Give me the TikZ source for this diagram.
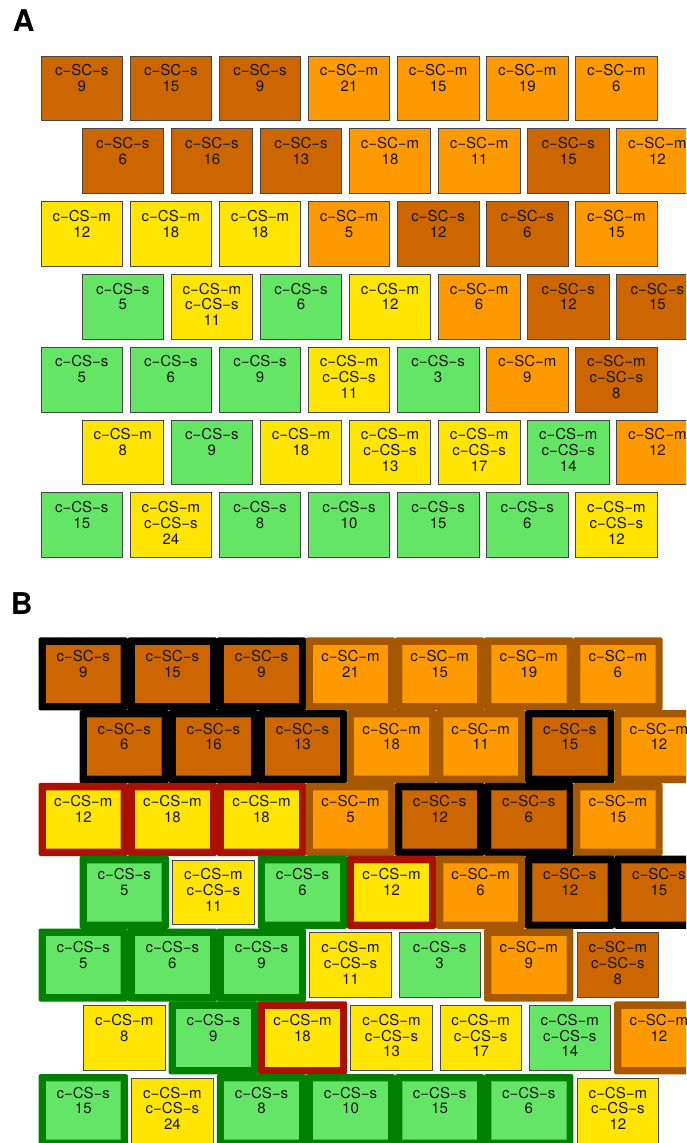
\documentclass[tikz,border=0pt]{standalone}
\usepackage{fontspec}
\setmainfont{TeX Gyre Heros}
\definecolor{scs}{RGB}{204,102,0}
\definecolor{scm}{RGB}{255,153,0}
\definecolor{csm}{RGB}{255,229,0}
\definecolor{css}{RGB}{101,229,101}
\definecolor{grpbrown}{RGB}{166,88,0}
\definecolor{grpred}{RGB}{170,17,0}
\definecolor{grpgreen}{RGB}{0,128,0}
\definecolor{cellline}{RGB}{70,70,70}
\tikzset{
  cellbox/.style={draw=cellline, line width=0.8pt, inner sep=0pt, outer sep=0pt,
    minimum width=81.5pt, minimum height=64.7pt},
  celltext/.style={font=\fontsize{15}{15.8}\selectfont, align=center, inner sep=0pt,
    anchor=north, text=black!92, execute at begin node={\rule{0pt}{11pt}}},
  panellabel/.style={font=\bfseries\fontsize{30}{30}\selectfont, inner sep=0pt},
  gblack/.code={\def\gcol{black}\def\gin{3}\tikzset{binner/.style={draw=black, draw opacity=0.3, line width=1.2pt}}},
  gbrown/.code={\def\gcol{grpbrown}\def\gin{3}\tikzset{binner/.style={draw=grpbrown, draw opacity=0.35, line width=1.2pt}}},
  gred/.code={\def\gcol{grpred}\def\gin{3}\tikzset{binner/.style={draw=grpred, draw opacity=0.35, line width=1.2pt}}},
  ggreen/.code={\def\gcol{grpgreen}\def\gin{3}\tikzset{binner/.style={draw=grpgreen, draw opacity=0.35, line width=1.2pt}}},
  gnone/.code={\def\gcol{none}\def\gin{0}\tikzset{binner/.style={draw=cellline, line width=0.8pt}}},
}
\def\cells{
1/1/scs/gblack/{c−SC−s\\9}, 1/2/scs/gblack/{c−SC−s\\15}, 1/3/scs/gblack/{c−SC−s\\9},
1/4/scm/gbrown/{c−SC−m\\21}, 1/5/scm/gbrown/{c−SC−m\\15}, 1/6/scm/gbrown/{c−SC−m\\19},
1/7/scm/gbrown/{c−SC−m\\6},
2/1/scs/gblack/{c−SC−s\\6}, 2/2/scs/gblack/{c−SC−s\\16}, 2/3/scs/gblack/{c−SC−s\\13},
2/4/scm/gbrown/{c−SC−m\\18}, 2/5/scm/gbrown/{c−SC−m\\11}, 2/6/scs/gblack/{c−SC−s\\15},
2/7/scm/gbrown/{c−SC−m\\12},
3/1/csm/gred/{c−CS−m\\12}, 3/2/csm/gred/{c−CS−m\\18}, 3/3/csm/gred/{c−CS−m\\18},
3/4/scm/gbrown/{c−SC−m\\5}, 3/5/scs/gblack/{c−SC−s\\12}, 3/6/scs/gblack/{c−SC−s\\6},
3/7/scm/gbrown/{c−SC−m\\15},
4/1/css/ggreen/{c−CS−s\\5}, 4/2/csm/gnone/{c−CS−m\\c−CS−s\\11}, 4/3/css/ggreen/{c−CS−s\\6},
4/4/csm/gred/{c−CS−m\\12}, 4/5/scm/gbrown/{c−SC−m\\6}, 4/6/scs/gblack/{c−SC−s\\12},
4/7/scs/gblack/{c−SC−s\\15},
5/1/css/ggreen/{c−CS−s\\5}, 5/2/css/ggreen/{c−CS−s\\6}, 5/3/css/ggreen/{c−CS−s\\9},
5/4/csm/gnone/{c−CS−m\\c−CS−s\\11}, 5/5/css/gnone/{c−CS−s\\3}, 5/6/scm/gbrown/{c−SC−m\\9},
5/7/scs/gnone/{c−SC−m\\c−SC−s\\8},
6/1/csm/gnone/{c−CS−m\\8}, 6/2/css/ggreen/{c−CS−s\\9}, 6/3/csm/gred/{c−CS−m\\18},
6/4/csm/gnone/{c−CS−m\\c−CS−s\\13}, 6/5/csm/gnone/{c−CS−m\\c−CS−s\\17},
6/6/css/gnone/{c−CS−m\\c−CS−s\\14}, 6/7/scm/gbrown/{c−SC−m\\12},
7/1/css/ggreen/{c−CS−s\\15}, 7/2/csm/gnone/{c−CS−m\\c−CS−s\\24}, 7/3/css/ggreen/{c−CS−s\\8},
7/4/css/ggreen/{c−CS−s\\10}, 7/5/css/ggreen/{c−CS−s\\15}, 7/6/css/ggreen/{c−CS−s\\6},
7/7/csm/gnone/{c−CS−m\\c−CS−s\\12}}
\begin{document}
\begin{tikzpicture}[x=1pt,y=-1pt]
\useasboundingbox (0,0) rectangle (686,1143);
\clip (0,0) rectangle (686,1143);
\def\dx{1.5}
\def\dy{585.5}
\node[panellabel] (labA) at (23.8,21) {A};
\node[panellabel] (labB) at (21.7,604) {B};
% Panel A
\foreach \r/\c/\f/\g/\t in \cells {
  \pgfmathsetmacro\xx{41+41*(1-mod(\r,2))+(\c-1)*89.1}
  \pgfmathsetmacro\yy{56+(\r-1)*72.8}
  \node[cellbox, fill=\f, anchor=north west] (a-\r-\c) at (\xx,\yy) {};
  \node[celltext] (at-\r-\c) at ([yshift=-8.3pt]a-\r-\c.north) {\t};
}
% Panel B: group outlines
\foreach \r/\c/\f/\g/\t in \cells {
  \expandafter\tikzset\expandafter{\g}
  \pgfmathsetmacro\xa{41+41*(1-mod(\r,2))+(\c-1)*89.1+\dx-3.9}
  \pgfmathsetmacro\ya{56+(\r-1)*72.8+\dy-4.2}
  \pgfmathsetmacro\xb{\xa+81.5+7.8}
  \pgfmathsetmacro\yb{\ya+64.7+8.4}
  \path[fill=\gcol, rounded corners=2pt] (\xa,\ya) rectangle (\xb,\yb);
}
% Panel B: cells
\foreach \r/\c/\f/\g/\t in \cells {
  \expandafter\tikzset\expandafter{\g}
  \pgfmathsetmacro\cx{41+41*(1-mod(\r,2))+(\c-1)*89.1+\dx+40.75}
  \pgfmathsetmacro\cy{56+(\r-1)*72.8+\dy+32.35}
  \pgfmathsetmacro\bw{81.5-2*\gin}
  \pgfmathsetmacro\bh{64.7-2*\gin}
  \node[inner sep=0pt, outer sep=0pt, fill=\f, binner, minimum width=\bw pt, minimum height=\bh pt] (b-\r-\c) at (\cx,\cy) {};
  \node[celltext] (bt-\r-\c) at ([yshift={-8.3pt+\gin pt}]b-\r-\c.north) {\t};
}
\end{tikzpicture}
\end{document}
